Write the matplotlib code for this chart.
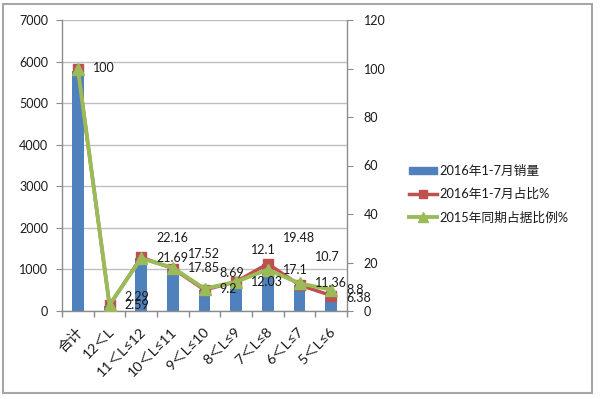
import matplotlib
matplotlib.use("Agg")
import matplotlib.pyplot as plt
import matplotlib.transforms as mtransforms
from matplotlib.patches import Rectangle
from matplotlib.lines import Line2D
from matplotlib.patches import Patch
import numpy as np

plt.rcParams['font.family'] = ['Lato', 'Noto Sans CJK SC', 'DejaVu Sans']

categories = ["合计", "12＜L", "11＜L≤12", "10＜L≤11", "9＜L≤10", "8＜L≤9", "7＜L≤8", "6＜L≤7", "5＜L≤6"]
sales_2016 = [5780, 132, 1281, 1013, 502, 699, 1126, 618, 369]
share_2016 = [100, 2.29, 22.16, 17.52, 8.69, 12.1, 19.48, 10.7, 6.38]
share_2015 = [100, 2.59, 21.69, 17.85, 9.2, 12.03, 17.1, 11.36, 8.8]
label_sales = "2016年1-7月销量"
label_s16 = "2016年1-7月占比%"
label_s15 = "2015年同期占据比例%"

# label vertical offsets in pixels (style/positioning)
red_dy = [0, 8, 19, 15, 17, 32, 26, 28, -2]
green_dy = [None, 0, 0, 0, 0, 0, 0, 0, 0]

BLUE = "#4F81BD"
RED = "#C0504D"
GREEN = "#9BBB59"
GRID = "#BFBFBF"
SPINE = "#8C8C8C"
TXT = "#1A1A1A"

fig = plt.figure(figsize=(6.0, 3.99), dpi=100)
ax = fig.add_axes([62/600, 88/399, 285/600, 291/399])
ax2 = ax.twinx()

x = np.arange(len(categories))
ax.bar(x, sales_2016, width=0.36, color=BLUE, zorder=2)
ax.set_xlim(-0.5, len(categories) - 0.5)
ax.set_ylim(0, 7000)
ax.set_yticks(np.arange(0, 7001, 1000))
ax.yaxis.grid(True, color=GRID, linewidth=1.0, zorder=0)
ax.set_axisbelow(True)

ax2.set_ylim(0, 120)
ax2.set_yticks(np.arange(0, 121, 20))
ax2.plot(x, share_2016, color=RED, linewidth=2.5, marker='s', markersize=7, zorder=3)
ax2.plot(x, share_2015, color=GREEN, linewidth=2.8, marker='^', markersize=8, zorder=4)

for i, v in enumerate(share_2016):
    ax2.annotate(f"{v:g}", (x[i], v), xytext=(15, red_dy[i]), textcoords='offset pixels',
                 ha='left', va='center', fontsize=9, color=TXT, zorder=6)
for i, v in enumerate(share_2015):
    if green_dy[i] is None:
        continue
    ax2.annotate(f"{v:g}", (x[i], v), xytext=(15, green_dy[i]), textcoords='offset pixels',
                 ha='left', va='center', fontsize=9, color=TXT, zorder=6)

# x ticks
ax.set_xticks(x)
ax.set_xticklabels(categories, rotation=45, ha='right', va='center', rotation_mode='anchor',
                   fontsize=10.3, color=TXT)
ax.tick_params(axis='x', which='major', length=0, pad=14)
offset = mtransforms.ScaledTranslation(3/100, 0, fig.dpi_scale_trans)
for lab in ax.get_xticklabels():
    lab.set_transform(lab.get_transform() + offset)
ax.set_xticks(np.arange(-0.5, len(categories), 1.0), minor=True)
ax.tick_params(axis='x', which='minor', length=4, color=SPINE, width=1)

ax.tick_params(axis='y', length=4, color=SPINE, labelsize=9, labelcolor=TXT, pad=6)
ax2.tick_params(axis='y', length=4, color=SPINE, labelsize=9, labelcolor=TXT, pad=8)

for a in (ax, ax2):
    a.spines['top'].set_visible(False)
    for s in ('left', 'right', 'bottom'):
        a.spines[s].set_color(SPINE)
        a.spines[s].set_linewidth(1.0)
ax.spines['right'].set_visible(False)
ax2.spines['left'].set_visible(False)
ax2.spines['bottom'].set_visible(False)

handles = [
    Patch(facecolor=BLUE, edgecolor=BLUE),
    Line2D([0], [0], color=RED, linewidth=2.5, marker='s', markersize=6),
    Line2D([0], [0], color=GREEN, linewidth=2.8, marker='^', markersize=7),
]
leg = fig.legend(handles, [label_sales, label_s16, label_s15], loc='upper left',
                 bbox_to_anchor=(409/600, 1 - 165/399), frameon=False, fontsize=9.2,
                 handlelength=2.2, handleheight=0.45, handletextpad=0.2, labelspacing=0.85,
                 borderpad=0, borderaxespad=0)
for t in leg.get_texts():
    t.set_color(TXT)

fig.patches.append(Rectangle((3/600, 6/399), 589/600, 389/399, transform=fig.transFigure,
                             fill=False, edgecolor="#A6A6A6", linewidth=1.5))

fig.savefig("out.png", dpi=100)
